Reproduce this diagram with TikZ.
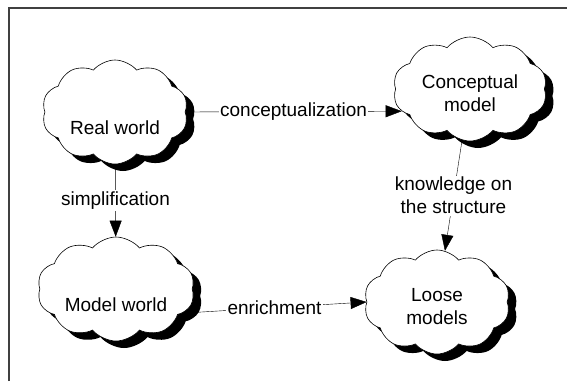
\documentclass[tikz,border=0pt]{standalone}
\usepackage{fontspec}
\setmainfont{Liberation Sans}
\usepackage{tikz}
\usetikzlibrary{arrows.meta,positioning,shapes.symbols,backgrounds}

\begin{document}
\begin{tikzpicture}[x=1pt, y=-1pt, line width=0.6pt,
      >={Triangle[length=16pt,width=12pt]},
      world/.style={cloud, cloud puffs=10, cloud puff arc=100, cloud ignores aspect,
        draw=black, fill=white, minimum width=150pt, minimum height=104pt,
        align=center, text height=45pt, font=\fontsize{19}{23}\selectfont,
        preaction={fill=black, transform canvas={xshift=8pt, yshift=-7pt}}},
      tag/.style={fill=white, inner sep=1.5pt, align=center, font=\fontsize{19}{23}\selectfont}]
    \useasboundingbox (0,0) rectangle (567,381);
    % frame, cut off at right and bottom
    \draw[black!75, line width=1.6pt] (9,381) -- (9,8) -- (567,8);
      \node[world, minimum width=146pt] at (115,112) (real) {Real world};
      \node[world, minimum width=154pt] at (470,89) (concept) {Conceptual\\model};
      \node[world, minimum width=152pt] at (116,289) (modelw) {Model world};
      \node[world, minimum width=146pt] at (437,302) (loose) {Loose\\models};
    \begin{scope}[on background layer]
    \draw[->] (real.east) -- node[tag] {conceptualization} (concept.198);
        \draw[->] (real) -- node[tag] {simplification} (modelw);
        \draw[->] (concept) -- node[tag] {knowledge on\\the structure} (loose);
    \draw[->] (modelw.-20) -- node[tag, pos=0.5] {enrichment} (loose.west);
    \end{scope}
      \end{tikzpicture}
\end{document}
